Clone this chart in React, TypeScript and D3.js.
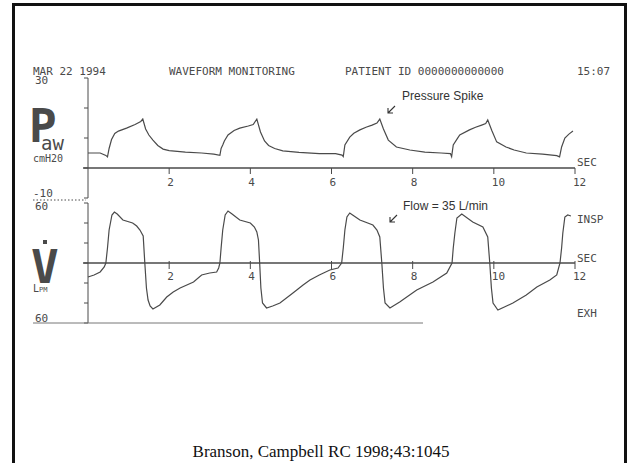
import * as d3 from 'd3';

// time (s) and airway pressure (cmH2O)
const pressTime = [0, 0.3, 0.44, 0.48, 0.52, 0.58, 0.66, 0.75, 0.95, 1.16, 1.3, 1.35, 1.42, 1.5, 1.6, 1.72, 1.85, 2.0, 2.4, 2.8, 3.1, 3.25, 3.28, 3.32, 3.36, 3.45, 3.6, 3.74, 3.95, 4.07, 4.16, 4.25, 4.35, 4.45, 4.6, 4.8, 5.2, 5.7, 6.1, 6.26, 6.29, 6.33, 6.45, 6.55, 6.7, 6.85, 7.0, 7.12, 7.19, 7.28, 7.4, 7.6, 7.93, 8.3, 8.7, 8.93, 8.96, 9.0, 9.1, 9.16, 9.4, 9.55, 9.7, 9.8, 9.85, 9.95, 10.07, 10.3, 10.5, 10.8, 11.2, 11.55, 11.62, 11.67, 11.75, 11.85, 11.95];
const pressVals = [5, 5, 4.2, 3.7, 6.5, 9.5, 11.5, 12.3, 13.3, 14.5, 15.5, 16.3, 13, 11, 9.3, 7.5, 6.3, 5.8, 5.3, 5, 4.6, 4.2, 6.5, 7.7, 9, 11, 12.5, 13.3, 14, 14.5, 16.3, 12, 9, 7.5, 6.5, 5.7, 5.2, 4.8, 4.8, 4.3, 3.8, 7.7, 10.3, 11.6, 12.7, 13.6, 14.3, 15, 16.3, 13, 9.3, 7, 6, 5.3, 5, 4.8, 3.8, 7.7, 9.8, 11, 12.7, 13.6, 14.3, 14.8, 16, 12.5, 8.7, 7, 6, 5, 4.6, 4.1, 3.7, 7, 10, 11.3, 12.3];

// time (s) and flow (L/min)
const flowTime = [0, 0.15, 0.3, 0.4, 0.44, 0.48, 0.52, 0.59, 0.65, 0.72, 0.86, 1.1, 1.2, 1.28, 1.36, 1.4, 1.44, 1.48, 1.53, 1.6, 1.77, 1.94, 2.1, 2.27, 2.6, 2.8, 3.0, 3.17, 3.22, 3.25, 3.28, 3.32, 3.38, 3.45, 3.55, 3.74, 4.0, 4.1, 4.16, 4.2, 4.23, 4.26, 4.3, 4.4, 4.55, 4.73, 5.05, 5.3, 5.47, 5.7, 5.96, 6.16, 6.25, 6.29, 6.33, 6.38, 6.45, 6.52, 6.7, 7.02, 7.12, 7.19, 7.24, 7.28, 7.32, 7.44, 7.68, 8.1, 8.5, 8.84, 8.97, 9.0, 9.04, 9.09, 9.21, 9.48, 9.73, 9.85, 9.9, 9.94, 9.98, 10.1, 10.47, 10.8, 11.06, 11.38, 11.55, 11.63, 11.67, 11.7, 11.75, 11.82, 11.9];
const flowVals = [-14, -12, -9, -4, 0, 15, 33, 48, 51, 49, 43, 40, 37, 33, 27, 0, -25, -37, -43, -46, -42, -34, -29, -25, -19, -12, -10, -9, -5, 0, 15, 33, 48, 52, 49, 43, 40, 36, 31, 23, 0, -25, -40, -45, -43, -40, -30, -22, -17, -12, -7, -5, 0, 15, 33, 46, 50, 48, 43, 38, 33, 26, 0, -25, -40, -45, -39, -27, -19, -10, 0, 15, 30, 45, 49, 41, 36, 26, 0, -25, -40, -47, -40, -32, -24, -17, -12, 0, 15, 30, 46, 48, 47];

const timeTicks = [2, 4, 6, 8, 10, 12];
const pressTicks = [30, 20, 10, 0, -10];
const flowTicks = [60, 40, 20, 0, -20, -40, -60];

const INK = '#4a4a4a';
const MONO = '"DejaVu Sans Mono", "Liberation Mono", monospace';
const SANS = '"Liberation Sans", Arial, sans-serif';

export default function App() {
    const x = d3.scaleLinear().domain([0, 12]).range([88, 575]);
    const yP = d3.scaleLinear().domain([-10, 30]).range([198, 78]);
    const yF = d3.scaleLinear().domain([-60, 60]).range([323, 203]);

    const pLine = d3.line<number>()
        .x((_, i) => x(pressTime[i]))
        .y(d => yP(d));
    const fLine = d3.line<number>()
        .x((_, i) => x(flowTime[i]))
        .y(d => yF(d));

    const arrow = (ax: number, ay: number) =>
        `M${ax + 7},${ay - 7} L${ax},${ay} M${ax},${ay - 5} L${ax},${ay} L${ax + 5},${ay}`;

    return (
        <div style={{ position: 'fixed', left: 0, top: 0 }}>
            <svg width={631} height={463} style={{ display: 'block', background: '#fff' }}>
                {/* slide frame */}
                <rect x={13.5} y={4.5} width={612} height={470} fill="none" stroke="#111" strokeWidth={3} />

                {/* header line */}
                <g fontFamily={MONO} fontSize={11} fill={INK}>
                    <text x={33} y={75}>MAR 22 1994</text>
                    <text x={169} y={75}>WAVEFORM MONITORING</text>
                    <text x={345} y={75}>PATIENT ID 0000000000000</text>
                    <text x={577} y={75}>15:07</text>
                </g>

                {/* pressure panel */}
                <line x1={x(0)} x2={x(0)} y1={yP(30)} y2={yP(-10)} stroke={INK} />
                {pressTicks.map(t => (
                    <line key={'pt' + t} x1={x(0) - 4} x2={x(0)} y1={yP(t)} y2={yP(t)} stroke={INK} />
                ))}
                <line x1={83} x2={x(12)} y1={yP(0)} y2={yP(0)} stroke={INK} strokeWidth={1.3} />
                {timeTicks.map(t => (
                    <g key={'px' + t}>
                        <line x1={x(t)} x2={x(t)} y1={yP(0)} y2={yP(0) + 6} stroke={INK} />
                        <text x={x(t) - 2} y={yP(0) + 18} fontFamily={MONO} fontSize={11} fill={INK}>{t}</text>
                    </g>
                ))}
                <path d={pLine(pressVals) || ''} fill="none" stroke={INK} strokeWidth={1.2} />
                <g fontFamily={MONO} fill={INK}>
                    <text x={35} y={84} fontSize={11}>30</text>
                    <text x={29} y={142} fontSize={46} fontWeight="bold">P</text>
                    <text x={41} y={150} fontSize={19}>aw</text>
                    <text x={33} y={162} fontSize={10}>cmH20</text>
                    <text x={33} y={197} fontSize={11}>-10</text>
                    <text x={35} y={210} fontSize={11}>60</text>
                    <text x={577} y={166} fontSize={11}>SEC</text>
                </g>
                <line x1={33} x2={86} y1={200} y2={200} stroke={INK} strokeDasharray="1.5,2" />
                <text x={402} y={100} fontFamily={SANS} fontSize={12} fill="#333">Pressure Spike</text>
                <path d={arrow(388, 113)} fill="none" stroke="#333" strokeWidth={1.1} />

                {/* flow panel */}
                <line x1={x(0)} x2={x(0)} y1={yF(60)} y2={yF(-60)} stroke={INK} />
                {flowTicks.map(t => (
                    <line key={'ft' + t} x1={x(0) - 4} x2={x(0)} y1={yF(t)} y2={yF(t)} stroke={INK} />
                ))}
                <line x1={83} x2={x(12)} y1={yF(0)} y2={yF(0)} stroke={INK} strokeWidth={1.3} />
                {timeTicks.map(t => (
                    <g key={'fx' + t}>
                        <line x1={x(t)} x2={x(t)} y1={yF(0) - 2} y2={yF(0) + 6} stroke={INK} />
                        <text x={x(t) - 2} y={yF(0) + 17} fontFamily={MONO} fontSize={11} fill={INK}>{t}</text>
                    </g>
                ))}
                <line x1={33} x2={423} y1={yF(-60)} y2={yF(-60)} stroke="#777" />
                <path d={fLine(flowVals) || ''} fill="none" stroke={INK} strokeWidth={1.2} />
                <g fontFamily={MONO} fill={INK}>
                    <text x={31} y={283} fontSize={46} fontWeight="bold">V</text>
                    <rect x={43} y={240} width={4} height={4} fill={INK} />
                    <text x={33} y={292} fontSize={10}>L<tspan fontSize={7}>PM</tspan></text>
                    <text x={35} y={322} fontSize={11}>60</text>
                    <text x={577} y={223} fontSize={11}>INSP</text>
                    <text x={577} y={262} fontSize={11}>SEC</text>
                    <text x={577} y={317} fontSize={11}>EXH</text>
                </g>
                <text x={403} y={210} fontFamily={SANS} fontSize={12} fill="#333">Flow = 35 L/min</text>
                <path d={arrow(390, 222)} fill="none" stroke="#333" strokeWidth={1.1} />

                {/* citation */}
                <text x={321} y={457} textAnchor="middle" fontFamily='"Liberation Serif", "Times New Roman", serif' fontSize={17} fill="#111">
                    Branson, Campbell RC 1998;43:1045
                </text>
            </svg>
        </div>
    );
}
